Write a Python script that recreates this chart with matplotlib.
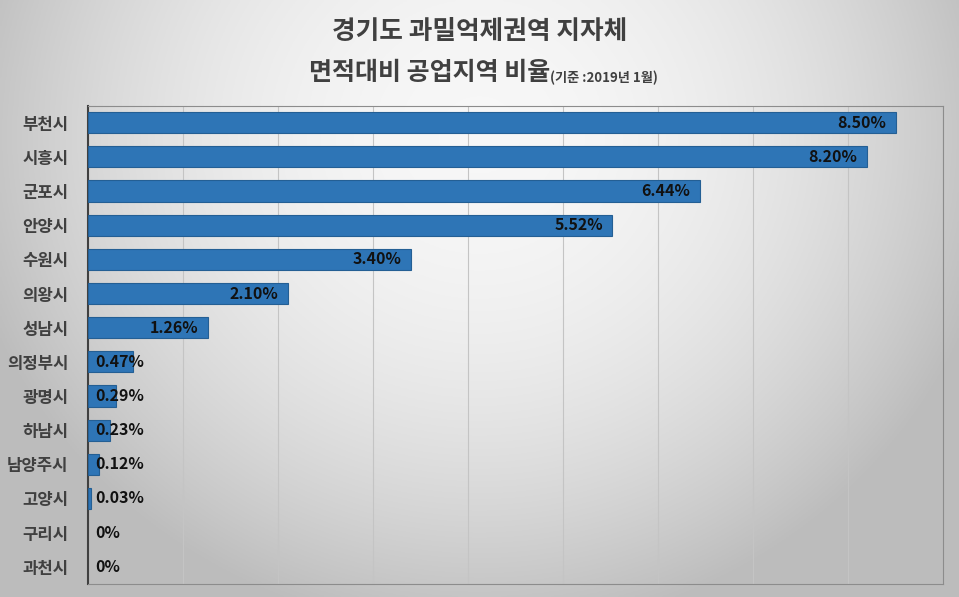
import numpy as np
import matplotlib
matplotlib.use('Agg')
from matplotlib import pyplot as plt

plt.rcParams['font.family'] = ['Noto Sans CJK KR', 'DejaVu Sans']

cities = ['부천시', '시흥시', '군포시', '안양시', '수원시', '의왕시', '성남시',
          '의정부시', '광명시', '하남시', '남양주시', '고양시', '구리시', '과천시']
ratios = [8.50, 8.20, 6.44, 5.52, 3.40, 2.10, 1.26,
          0.47, 0.29, 0.23, 0.12, 0.03, 0, 0]
labels = ['8.50%', '8.20%', '6.44%', '5.52%', '3.40%', '2.10%', '1.26%',
          '0.47%', '0.29%', '0.23%', '0.12%', '0.03%', '0%', '0%']

fig = plt.figure(figsize=(9.59, 5.97), dpi=100)

# gray radial background
bg = fig.add_axes([0, 0, 1, 1])
gx, gy = np.meshgrid(np.linspace(-1, 1, 400), np.linspace(-1, 1, 300))
r = np.sqrt((gx / 1.05) ** 2 + ((gy + 0.55) / 1.6) ** 2)
shade = np.clip(0.97 - 0.21 * r ** 2, 0.74, 0.97)
bg.imshow(np.dstack([shade] * 3), extent=[0, 1, 0, 1], aspect='auto', origin='upper')
bg.axis('off')

ax = fig.add_axes([0.0918, 0.022, 0.8916, 0.801])
ax.patch.set_alpha(0)
ypos = np.arange(len(cities))
widths = [v if v > 0 else np.nan for v in ratios]
ax.barh(ypos, widths, height=0.62, color='#2E75B6', edgecolor='#245f94', linewidth=0.8, zorder=3)
ax.set_xlim(0, 9)
ax.set_ylim(len(cities) - 0.5, -0.5)
ax.set_xticks(np.arange(0, 10, 1))
ax.set_xticklabels([])
ax.tick_params(axis='x', length=0)
ax.tick_params(axis='y', length=0, pad=14)
ax.grid(axis='x', color='#c4c4c4', linewidth=0.8, zorder=0)
ax.set_yticks(ypos)
ax.set_yticklabels(cities, fontsize=12, fontweight='bold', color='#404040')
for s in ['top', 'right', 'bottom']:
    ax.spines[s].set_color('#8c8c8c')
    ax.spines[s].set_linewidth(0.8)
ax.spines['left'].set_color('#404040')
ax.spines['left'].set_linewidth(1.5)

for y, v, t in zip(ypos, ratios, labels):
    if v >= 1:
        ax.text(v - 0.1, y, t, ha='right', va='center', fontsize=11.5,
                fontweight='bold', color='#111111', zorder=4)
    else:
        ax.text(0.08, y, t, ha='left', va='center', fontsize=11.5,
                fontweight='bold', color='#111111', zorder=4)

fig.text(0.5, 0.948, '경기도 과밀억제권역 지자체', ha='center', va='center',
         fontsize=18.5, fontweight='bold', color='#404040')
fig.text(0.574, 0.877, '면적대비 공업지역 비율', ha='right', va='center',
         fontsize=18, fontweight='bold', color='#404040')
fig.text(0.574, 0.870, '(기준 :2019년 1월)', ha='left', va='center',
         fontsize=9.5, fontweight='bold', color='#404040')

fig.savefig('out.png', dpi=100)
